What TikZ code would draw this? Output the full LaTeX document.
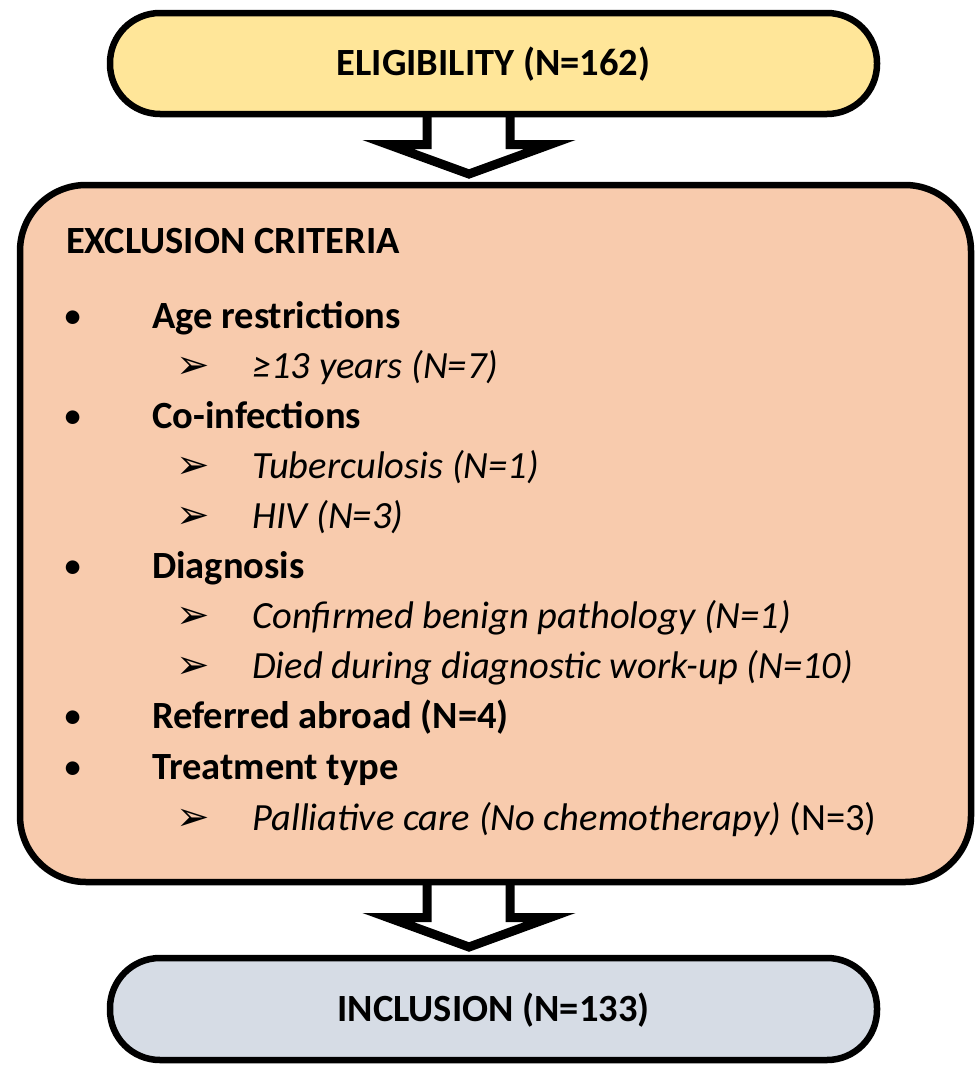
\documentclass[tikz,border=0pt]{standalone}
\usepackage{fontspec}
\setmainfont{Carlito}
\newfontfamily\symfont{DejaVu Sans}
\usetikzlibrary{calc}
\definecolor{eligfill}{HTML}{FFE699}
\definecolor{exclfill}{HTML}{F8CBAD}
\definecolor{inclfill}{HTML}{D6DCE5}
\pgfdeclarelayer{bg}
\pgfsetlayers{bg,main}
\newcommand{\blockarr}[2]{%
  \draw[blockarrow] ($(#2 |- #1)+(-42,-14)$) -- ($(#2)+(-42,-29.5)$) -- ($(#2)+(-81,-29.5)$) -- (#2)
    -- ($(#2)+(81,-29.5)$) -- ($(#2)+(41,-29.5)$) -- ($(#2 |- #1)+(41,-14)$) -- cycle;}
\begin{document}
\begin{tikzpicture}[x=1pt,y=-1pt,
  box/.style={draw=black, line width=6.5pt, inner sep=0pt, outer sep=0pt, rectangle,
    text height=24.4pt, text depth=0pt, font=\fontsize{38.5}{44}\selectfont\bfseries},
  blockarrow/.style={draw=black, fill=white, line width=9pt, line join=miter, miter limit=20},
  lvlzero/.style={anchor=base west, inner sep=0pt, font=\fontsize{38.5}{44}\selectfont\bfseries},
  lvlone/.style={anchor=base west, inner sep=0pt, font=\fontsize{38.5}{44}\selectfont\bfseries},
  lvltwo/.style={anchor=base west, inner sep=0pt, font=\fontsize{38.5}{44}\selectfont\itshape},
  dot/.style={anchor=base, inner sep=0pt, font=\fontsize{38.5}{44}\selectfont},
  arrowhd/.style={anchor=base west, inner sep=0pt, font=\fontsize{40}{44}\selectfont\symfont},
]
\useasboundingbox (0,0) rectangle (977,1068);

\node[box, fill=eligfill, minimum width=767pt, minimum height=101pt, rounded corners=50pt] (elig) at (493.5,63.5) {ELIGIBILITY (N=162)};
\node[box, fill=exclfill, minimum width=951pt, minimum height=697pt, rounded corners=66pt] (excl) at (495.5,533.5) {};
\node[box, fill=inclfill, minimum width=767pt, minimum height=102pt, rounded corners=50pt] (incl) at (493.5,1009) {INCLUSION (N=133)};

\path (excl.north) ++(-26.5,-11) coordinate (tipA);
\path (incl.north) ++(-24.5,-11) coordinate (tipB);
\begin{pgfonlayer}{bg}
\blockarr{elig.south}{tipA}
\blockarr{excl.south}{tipB}
\end{pgfonlayer}

\node[lvlzero] (hdr) at (66,253) {EXCLUSION CRITERIA};

\node[dot] (b1) at (73,328) {•};
\node[lvlone] (age) at (152,328) {Age restrictions};
\node[arrowhd] (a1) at (176,378) {➢};
\node[lvltwo] (yrs) at (252,378) {≥13 years (N=7)};

\node[dot] (b2) at (73,428) {•};
\node[lvlone] (coi) at (152,428) {Co-infections};
\node[arrowhd] (a2) at (176,478) {➢};
\node[lvltwo] (tb) at (252,478) {Tuberculosis (N=1)};
\node[arrowhd] (a3) at (176,528) {➢};
\node[lvltwo] (hiv) at (252,528) {HIV (N=3)};

\node[dot] (b3) at (73,578) {•};
\node[lvlone] (diag) at (152,578) {Diagnosis};
\node[arrowhd] (a4) at (176,628) {➢};
\node[lvltwo] (benign) at (252,628) {Confirmed benign pathology (N=1)};
\node[arrowhd] (a5) at (176,678) {➢};
\node[lvltwo] (died) at (252,678) {Died during diagnostic work-up (N=10)};

\node[dot] (b4) at (73,728) {•};
\node[lvlone] (abroad) at (152,728) {Referred abroad (N=4)};

\node[dot] (b5) at (73,779) {•};
\node[lvlone] (treat) at (152,779) {Treatment type};
\node[arrowhd] (a6) at (176,830) {➢};
\node[lvltwo] (pall) at (252,830) {Palliative care (No chemotherapy)\upshape{} (N=3)};
\end{tikzpicture}
\end{document}
